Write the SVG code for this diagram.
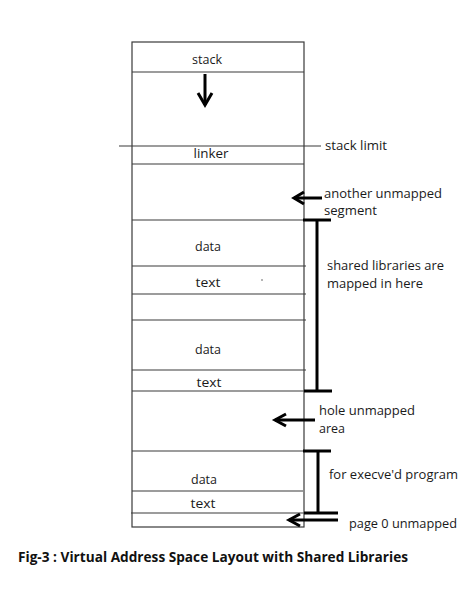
<svg xmlns="http://www.w3.org/2000/svg" width="474" height="593" viewBox="0 0 474 593">
<style>
.bg{fill:#ffffff}
.box{fill:none;stroke:#3a3a3a;stroke-width:1.2}
.sep{stroke:#3a3a3a;stroke-width:1.2}
.t{font-family:"Open Sans","Liberation Sans",sans-serif;font-size:13px;fill:#1a1a1a}
.s{font-size:12px}
.c{text-anchor:middle}
.thick{stroke:#000;stroke-width:3;fill:none;stroke-linecap:butt}
.head{stroke:#000;stroke-width:3;fill:none;stroke-linejoin:miter}
.cap{font-family:"Open Sans","Liberation Sans",sans-serif;font-size:14px;font-weight:bold;fill:#111}
</style>
<rect class="bg" x="0" y="0" width="474" height="593"/>
<g id="memory">
  <rect class="box" x="132" y="42" width="172" height="485"/>
  <g id="stack"><line class="sep" x1="132" y1="72" x2="304" y2="72"/><text class="t c" x="207" y="64" textLength="30" lengthAdjust="spacingAndGlyphs">stack</text></g>
  <g id="stack-limit"><line class="sep" x1="119" y1="146" x2="321" y2="146"/><text class="t" x="325" y="150" textLength="62" lengthAdjust="spacingAndGlyphs">stack limit</text></g>
  <g id="linker"><line class="sep" x1="132" y1="164" x2="304" y2="164"/><text class="t c" x="211" y="158" textLength="35" lengthAdjust="spacingAndGlyphs">linker</text></g>
  <g id="unmapped-segment"><line class="sep" x1="132" y1="220" x2="304" y2="220"/></g>
  <g id="lib1-data"><line class="sep" x1="132" y1="266" x2="306" y2="266"/><text class="t c" x="208" y="251" textLength="26" lengthAdjust="spacingAndGlyphs">data</text></g>
  <g id="lib1-text"><line class="sep" x1="132" y1="294" x2="306" y2="294"/><text class="t c" x="208" y="287" textLength="25" lengthAdjust="spacingAndGlyphs">text</text><circle cx="262" cy="280" r="0.7" fill="#333"/></g>
  <g id="lib-gap"><line class="sep" x1="132" y1="320" x2="306" y2="320"/></g>
  <g id="lib2-data"><line class="sep" x1="132" y1="370" x2="306" y2="370"/><text class="t c" x="208" y="354" textLength="26" lengthAdjust="spacingAndGlyphs">data</text></g>
  <g id="lib2-text"><line class="sep" x1="132" y1="391" x2="304" y2="391"/><text class="t c" x="209" y="387" textLength="25" lengthAdjust="spacingAndGlyphs">text</text></g>
  <g id="hole"><line class="sep" x1="132" y1="451" x2="304" y2="451"/></g>
  <g id="prog-data"><line class="sep" x1="132" y1="491" x2="303" y2="491"/><text class="t c" x="204" y="484" textLength="26" lengthAdjust="spacingAndGlyphs">data</text></g>
  <g id="prog-text"><line class="sep" x1="131" y1="513" x2="304" y2="513"/><text class="t c" x="203" y="508" textLength="25" lengthAdjust="spacingAndGlyphs">text</text></g>
</g>
<g id="labels">
  <g id="label-another"><text class="t s" x="324" y="198" textLength="118" lengthAdjust="spacingAndGlyphs">another unmapped</text><text class="t s" x="324" y="215" textLength="53" lengthAdjust="spacingAndGlyphs">segment</text></g>
  <g id="label-shared"><text class="t" x="327" y="270" textLength="117" lengthAdjust="spacingAndGlyphs">shared libraries are</text><text class="t" x="327" y="288" textLength="96" lengthAdjust="spacingAndGlyphs">mapped in here</text></g>
  <g id="label-hole"><text class="t" x="319" y="415" textLength="96" lengthAdjust="spacingAndGlyphs">hole unmapped</text><text class="t" x="319" y="433" textLength="26" lengthAdjust="spacingAndGlyphs">area</text></g>
  <g id="label-execve"><text class="t" x="329" y="479" textLength="129" lengthAdjust="spacingAndGlyphs">for execve'd program</text></g>
  <g id="label-page0"><text class="t" x="349" y="528" textLength="108" lengthAdjust="spacingAndGlyphs">page 0 unmapped</text></g>
</g>
<g id="connectors">
  <line class="thick" x1="205" y1="74" x2="205" y2="105"/>
  <polyline class="head" points="198,93 205,105 212,93"/>
  <line class="thick" x1="294" y1="198" x2="322" y2="198"/>
  <polyline class="head" points="304,192 294,198 304,204"/>
  <line class="thick" x1="275" y1="420" x2="315" y2="420"/>
  <polyline class="head" points="286,414 275,420 286,426"/>
  <line class="thick" x1="289" y1="520" x2="338" y2="520"/>
  <polyline class="head" points="300,514 289,520 300,526"/>
  <polyline class="thick" points="303,220 331,220"/>
  <line class="thick" x1="317" y1="220" x2="317" y2="391"/>
  <polyline class="thick" points="304,391 332,391"/>
  <polyline class="thick" points="303,451 331,451"/>
  <line class="thick" x1="318" y1="451" x2="318" y2="514"/>
  <polyline class="thick" points="304,513 338,513"/>
</g>
<g id="caption"><text class="cap" x="18" y="562" textLength="390" lengthAdjust="spacingAndGlyphs">Fig-3 : Virtual Address Space Layout with Shared Libraries</text></g>
</svg>
